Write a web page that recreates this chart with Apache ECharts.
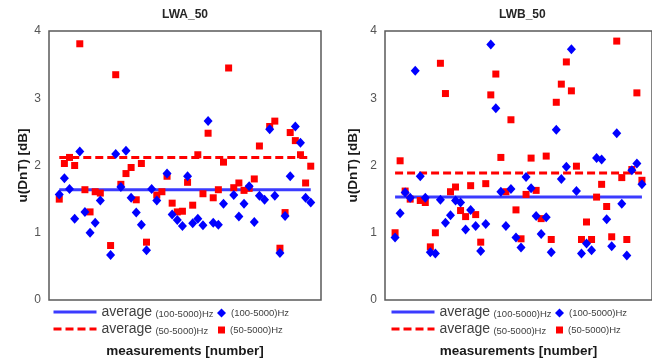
<!DOCTYPE html>
<html><head><meta charset="utf-8">
<script src="https://cdn.jsdelivr.net/npm/echarts@6/dist/echarts.min.js"></script>
<style>html,body{margin:0;padding:0;background:#fff}#c{width:652px;height:363px}</style>
</head><body><div id="c"></div>
<script>
// measurement numbers (x positions)
const measurements = [1,2,3,4,5,6,7,8,9,10,11,12,13,14,15,16,17,18,19,20,21,22,23,24,25,26,27,28,29,30,31,32,33,34,35,36,37,38,39,40,41,42,43,44,45,46,47,48,49,50];
const yTicks = [0,1,2,3,4];

// LWA_50 : u(DnT) for (100-5000)Hz and (50-5000)Hz
const lwaBand100 = [1.57,1.81,1.65,1.21,2.21,1.31,1.00,1.15,1.48,null,0.67,2.17,1.68,2.22,1.52,1.30,1.12,0.74,1.65,1.48,null,1.88,1.27,1.19,1.10,1.84,1.14,1.21,1.11,2.66,1.15,1.12,1.43,null,1.56,1.24,1.43,1.69,1.16,1.55,1.49,2.54,1.55,0.70,1.25,1.84,2.58,2.34,1.52,1.45];
const lwaBand50 = [1.50,2.03,2.12,2.00,3.81,1.64,1.31,1.61,1.59,null,0.81,3.35,1.72,1.88,1.97,1.49,2.03,0.86,null,1.56,1.61,1.84,1.44,1.31,1.32,1.75,1.41,2.16,1.58,2.48,1.52,1.64,2.05,3.45,1.67,1.74,1.63,1.66,1.80,2.29,null,2.58,2.66,0.77,1.30,2.49,2.37,2.16,1.74,1.99];
const lwaAvg100 = 1.64;
const lwaAvg50 = 2.12;

// LWB_50
const lwbBand100 = [0.93,1.29,1.60,1.52,3.41,1.84,1.52,0.71,0.69,1.49,1.15,1.26,1.48,1.45,1.05,1.34,1.10,0.73,1.13,3.80,2.85,1.61,1.10,1.65,0.93,0.78,1.83,1.66,1.25,0.98,1.23,0.71,2.53,1.80,1.98,3.73,1.62,0.69,0.84,0.74,2.11,2.09,1.20,0.80,2.48,1.43,0.66,1.93,2.03,1.72];
const lwbBand50 = [1.00,2.07,1.62,1.50,null,1.48,1.45,0.79,1.00,3.52,3.07,1.61,1.68,1.33,1.24,1.70,1.27,0.86,1.73,3.05,3.36,2.12,1.61,2.68,1.34,0.91,1.57,2.11,1.63,1.21,2.14,0.90,2.94,3.21,3.54,3.11,1.99,0.90,1.16,0.90,1.53,1.72,1.39,0.94,3.85,1.82,0.90,1.94,3.08,1.78];
const lwbAvg100 = 1.53;
const lwbAvg50 = 1.89;

const chartTitles = ['LWA_50', 'LWB_50'];
const yName = 'u(DnT) [dB]';
const xName = 'measurements [number]';

const FONT = '"Liberation Sans", Arial, sans-serif';
const BLUE = '#0000ff', BLUE_LINE = '#3b3bff', RED = '#ff0000';

function pts(vals) {
  const out = [];
  vals.forEach((v, i) => { if (v !== null) out.push([measurements[i], v]); });
  return out;
}
function avgLine(v) {
  return [[measurements[0], v], [measurements[measurements.length - 1], v]];
}

const labelMap = {};
function makeChartSeries(prefix, idx, b100, b50, a100, a50) {
  labelMap[prefix + 'avg100'] = '{a|average} {b|(100-5000)Hz}';
  labelMap[prefix + 'pts100'] = '{c|(100-5000)Hz}';
  labelMap[prefix + 'avg50'] = '{a|average} {b|(50-5000)Hz}';
  labelMap[prefix + 'pts50'] = '{c|(50-5000)Hz}';
  return [
    { name: prefix + 'avg100', type: 'line', xAxisIndex: idx, yAxisIndex: idx, data: avgLine(a100),
      symbol: 'none', silent: true, z: 2, lineStyle: { color: BLUE_LINE, width: 3, type: 'solid' }, itemStyle: { color: BLUE_LINE } },
    { name: prefix + 'pts100', type: 'scatter', xAxisIndex: idx, yAxisIndex: idx, data: pts(b100),
      symbol: 'diamond', symbolSize: [9, 10], z: 4, itemStyle: { color: BLUE, opacity: 1 } },
    { name: prefix + 'avg50', type: 'line', xAxisIndex: idx, yAxisIndex: idx, data: avgLine(a50),
      symbol: 'none', silent: true, z: 2, lineStyle: { color: RED, width: 3, type: [8, 4] }, itemStyle: { color: RED } },
    { name: prefix + 'pts50', type: 'scatter', xAxisIndex: idx, yAxisIndex: idx, data: pts(b50),
      symbol: 'rect', symbolSize: 7, z: 3, itemStyle: { color: RED, opacity: 1 } }
  ];
}

const series = [].concat(
  makeChartSeries('L_', 0, lwaBand100, lwaBand50, lwaAvg100, lwaAvg50),
  makeChartSeries('R_', 1, lwbBand100, lwbBand50, lwbAvg100, lwbAvg50)
);

const rich = {
  a: { fontSize: 14, color: '#404040', fontFamily: FONT, verticalAlign: 'bottom' },
  b: { fontSize: 9.5, color: '#404040', fontFamily: FONT, verticalAlign: 'bottom' },
  c: { fontSize: 9.5, color: '#404040', fontFamily: FONT }
};
function legendItem(name, left, top, w, h, isLine) {
  const l = { data: [name], left: left, top: top, itemWidth: w, itemHeight: h, padding: 0,
    selectedMode: false, formatter: n => labelMap[n], textStyle: { rich: rich } };
  if (isLine) {
    l.itemStyle = { opacity: 0, borderWidth: 0 };
    l.lineStyle = { width: 3 };
  }
  return l;
}
const legends = [];
[['L_', 0], ['R_', 338]].forEach(([p, dx]) => {
  legends.push(legendItem(p + 'avg100', 52 + dx, 305, 43, 14, true));
  legends.push(legendItem(p + 'pts100', 217 + dx, 308, 9, 9, false));
  legends.push(legendItem(p + 'avg50', 52 + dx, 322, 43, 14, true));
  legends.push(legendItem(p + 'pts50', 218 + dx, 325, 7, 7, false));
});

const grids = [
  { left: 49, top: 31, width: 272, height: 271 },
  { left: 385, top: 31, width: 272, height: 271 }
].map(g => Object.assign(g, { show: true, borderColor: '#5a5a5a', borderWidth: 1.5, backgroundColor: 'transparent' }));

const xAxes = [0, 1].map(i => ({
  type: 'value', gridIndex: i, min: -1, max: 52,
  axisLine: { show: false }, axisTick: { show: false }, axisLabel: { show: false }, splitLine: { show: false },
  name: xName, nameLocation: 'middle', nameGap: 44,
  nameTextStyle: { fontSize: 13.5, fontWeight: 'bold', color: '#1a1a1a', fontFamily: FONT }
}));
const yAxes = [0, 1].map(i => ({
  type: 'value', gridIndex: i, min: yTicks[0], max: yTicks[yTicks.length - 1], interval: 1,
  axisLine: { show: false }, axisTick: { show: false }, splitLine: { show: false },
  axisLabel: { fontSize: 12, color: '#555', margin: 8, fontFamily: FONT },
  name: yName, nameLocation: 'middle', nameGap: i === 0 ? 18 : 25,
  nameTextStyle: { fontSize: 13.5, fontWeight: 'bold', color: '#1a1a1a', fontFamily: FONT }
}));

const titles = [
  { text: chartTitles[0], left: 162, top: 9 },
  { text: chartTitles[1], left: 499, top: 9 }
].map(t => Object.assign(t, { padding: 0, textStyle: { fontSize: 12, fontWeight: 'bold', color: '#262626', fontFamily: FONT } }));

const chart = echarts.init(document.getElementById('c'), null, { renderer: 'canvas' });
chart.setOption({
  animation: false,
  backgroundColor: '#fff',
  title: titles,
  grid: grids,
  xAxis: xAxes,
  yAxis: yAxes,
  legend: legends,
  series: series
});
</script>
</body></html>
